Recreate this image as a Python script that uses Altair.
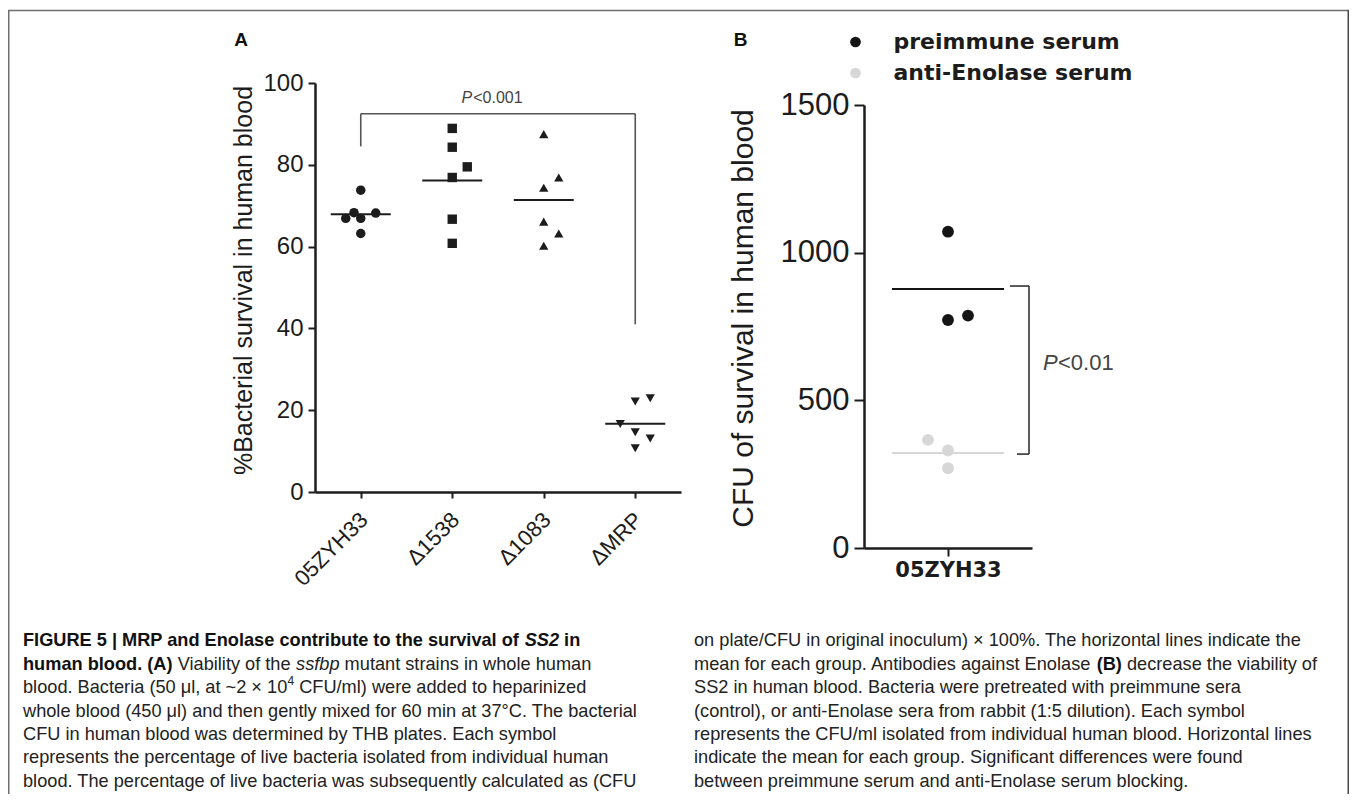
import altair as alt
import pandas as pd

# ---------------- values ----------------
STRAINS = ["05ZYH33", "Δ1538", "Δ1083", "ΔMRP"]
STRAIN_SHAPES = ["circle", "square", "triangle-up", "triangle-down"]
STRAIN_SYMBOL_AREA = [90, 85, 125, 125]

SURV_05ZYH33 = [73.8, 68.3, 68.2, 66.9, 66.9, 63.2]
SURV_D1538 = [88.9, 84.3, 79.5, 76.9, 66.7, 60.8]
SURV_D1083 = [87.5, 76.9, 74.4, 66.1, 63.2, 60.2]
SURV_DMRP = [22.1, 22.9, 16.6, 14.6, 13.1, 10.7]
# column slot of each symbol in the dot plot (-1 left, 0 centre, 1 right)
SLOT_05ZYH33 = [0, -0.45, 1, -1, 0, 0]
SLOT_D1538 = [0, 0, 1, 0, 0, 0]
SLOT_D1083 = [0, 1, 0, 0, 1, 0]
SLOT_DMRP = [0, 1, -1, 0, 1, 0]
A_Y_TICKS = [0, 20, 40, 60, 80, 100]
A_BRACKET_TOP = 92.5
A_BRACKET_LEFT_END = 84.5
A_BRACKET_RIGHT_END = 41.0
A_P_Y = 96.3

SERA = ["preimmune serum", "anti-Enolase serum"]
SERA_COLORS = ["#151515", "#d7d7d7"]
CFU_PRE = [1071, 772, 787]
CFU_ANTI = [366, 330, 270]
SLOT_PRE = [0, 0, 1]
SLOT_ANTI = [-1, 0, 0]
B_Y_TICKS = [0, 500, 1000, 1500]
B_BRACKET_TOP = 887
B_BRACKET_BOTTOM = 318
B_P_Y = 626

# ---------------- layout helpers ----------------
W, H = 1341, 786
def cx(x):
    return x - 8
def cy(y):
    return y - 8

FONT = "Liberation Sans"
INK = "#1c1c1c"
ONE = pd.DataFrame({"one": [1]})

# ---------------- panel A ----------------
dfA = pd.DataFrame({
    "strain": sum([[s] * 6 for s in STRAINS], []),
    "value": SURV_05ZYH33 + SURV_D1538 + SURV_D1083 + SURV_DMRP,
    "slot": SLOT_05ZYH33 + SLOT_D1538 + SLOT_D1083 + SLOT_DMRP,
})

xA_scale = alt.Scale(type="point", domain=STRAINS, range=[cx(315), cx(681)], padding=0.5)
yA_scale = alt.Scale(domain=[0, 100], range=[cy(492), cy(83)], nice=False, zero=False)

xA_axis = alt.Axis(orient="bottom", offset=-(H - cy(492)), title=None, labelAngle=-45,
                   labelAlign="right", labelBaseline="middle", labelFont=FONT,
                   labelFontSize=22, labelColor=INK, labelPadding=18, labelOffset=3,
                   tickSize=6, tickWidth=2, tickColor=INK, domainWidth=2.5, domainColor=INK,
                   grid=False, labelOverlap=False)
yA_axis = alt.Axis(orient="left", offset=-cx(315), values=A_Y_TICKS,
                   title="%Bacterial survival in human blood", titleFont=FONT,
                   titleFontSize=25, titleFontWeight="normal", titleColor=INK,
                   titleX=243 - 315, titleY=cy(280), titleBaseline="middle", titleAngle=270,
                   labelFont=FONT, labelFontSize=24, labelColor=INK, labelPadding=5,
                   tickSize=7, tickWidth=2, tickColor=INK, domainWidth=2.5,
                   domainColor=INK, grid=False)

ptsA = alt.Chart(dfA).mark_point(filled=True, opacity=1, color=INK, strokeWidth=0).encode(
    x=alt.X("strain:N", scale=xA_scale, axis=xA_axis, sort=STRAINS),
    xOffset=alt.XOffset("slot:Q", scale=alt.Scale(domain=[-1, 1], range=[-15, 15])),
    y=alt.Y("value:Q", scale=yA_scale, axis=yA_axis),
    shape=alt.Shape("strain:N", scale=alt.Scale(domain=STRAINS, range=STRAIN_SHAPES), legend=None),
    size=alt.Size("strain:N", scale=alt.Scale(domain=STRAINS, range=STRAIN_SYMBOL_AREA), legend=None),
)
meanA = alt.Chart(dfA).mark_tick(size=60, thickness=2, color=INK, orient="horizontal").encode(
    x=alt.X("strain:N", scale=xA_scale, axis=None, sort=STRAINS),
    y=alt.Y("mean(value):Q", scale=yA_scale, axis=None),
)
bracketA_df = pd.DataFrame({
    "x1": [STRAINS[0], STRAINS[0], STRAINS[3]],
    "x2": [STRAINS[3], STRAINS[0], STRAINS[3]],
    "y1": [A_BRACKET_TOP, A_BRACKET_LEFT_END, A_BRACKET_RIGHT_END],
    "y2": [A_BRACKET_TOP, A_BRACKET_TOP, A_BRACKET_TOP],
})
bracketA = alt.Chart(bracketA_df).mark_rule(color="#555555", strokeWidth=1.6).encode(
    x=alt.X("x1:N", scale=xA_scale, axis=None),
    x2="x2",
    y=alt.Y("y1:Q", scale=yA_scale, axis=None),
    y2="y2",
)
pA1 = alt.Chart(ONE).mark_text(text="P", font=FONT, fontSize=16, fontStyle="italic",
                               color="#444444", align="right", baseline="middle", dx=20).encode(
    x=alt.XDatum(STRAINS[1], axis=None, scale=xA_scale),
    y=alt.YDatum(A_P_Y, axis=None, scale=yA_scale),
)
pA2 = alt.Chart(ONE).mark_text(text="<0.001", font=FONT, fontSize=16,
                               color="#444444", align="left", baseline="middle", dx=21).encode(
    x=alt.XDatum(STRAINS[1], axis=None, scale=xA_scale),
    y=alt.YDatum(A_P_Y, axis=None, scale=yA_scale),
)

# ---------------- panel B ----------------
dfB = pd.DataFrame({
    "strain": ["05ZYH33"] * 6,
    "serum": [SERA[0]] * 3 + [SERA[1]] * 3,
    "cfu": CFU_PRE + CFU_ANTI,
    "slot": SLOT_PRE + SLOT_ANTI,
})
xB_scale = alt.Scale(type="point", domain=["05ZYH33"], range=[cx(864), cx(1032)], padding=0.5)
yB_scale = alt.Scale(domain=[0, 1500], range=[cy(548), cy(105)], nice=False, zero=False)
colorB_scale = alt.Scale(domain=SERA, range=SERA_COLORS)

xB_axis = alt.Axis(orient="bottom", offset=-(H - cy(548)), title=None, labelAngle=0,
                   labelFont="DejaVu Sans", labelFontWeight="bold", labelFontSize=21,
                   labelColor=INK, labelPadding=3, tickSize=8, tickWidth=2, tickColor=INK,
                   domainWidth=2.5, domainColor=INK, grid=False)
yB_axis = alt.Axis(orient="left", offset=-cx(864), values=B_Y_TICKS, format="d",
                   title="CFU of survival in human blood", titleFont=FONT,
                   titleFontSize=30, titleFontWeight="normal", titleColor=INK,
                   titleX=743 - 864, titleY=cy(318), titleBaseline="middle", titleAngle=270,
                   labelFont=FONT, labelFontSize=31, labelColor=INK, labelPadding=5,
                   tickSize=10, tickWidth=2, tickColor=INK, domainWidth=2.5,
                   domainColor=INK, grid=False)
legendB = alt.Legend(orient="none", legendX=cx(850 - 5.5), legendY=cy(42 - 11), title=None,
                     symbolType="circle", symbolSize=115, symbolStrokeWidth=0, symbolOpacity=1,
                     labelFont="DejaVu Sans", labelFontWeight="bold", labelFontSize=22,
                     labelColor=INK, rowPadding=9, labelOffset=27, padding=0, labelLimit=400)

ptsB = alt.Chart(dfB).mark_circle(size=140, opacity=1).encode(
    x=alt.X("strain:N", scale=xB_scale, axis=xB_axis),
    xOffset=alt.XOffset("slot:Q", scale=alt.Scale(domain=[-1, 1], range=[-20, 20])),
    y=alt.Y("cfu:Q", scale=yB_scale, axis=yB_axis),
    color=alt.Color("serum:N", scale=colorB_scale, legend=legendB, sort=SERA),
)
meanB = alt.Chart(dfB).mark_tick(size=112, thickness=2, orient="horizontal", opacity=1).encode(
    x=alt.X("strain:N", scale=xB_scale, axis=None),
    y=alt.Y("mean(cfu):Q", scale=yB_scale, axis=None),
    color=alt.Color("serum:N", scale=colorB_scale, legend=None),
)
BR = "#333333"
brB_top = alt.Chart(ONE).mark_rule(color=BR, strokeWidth=1.6).encode(
    x=alt.value(cx(1010)), x2=alt.value(cx(1029)),
    y=alt.YDatum(B_BRACKET_TOP, axis=None, scale=yB_scale))
brB_vert = alt.Chart(ONE).mark_rule(color=BR, strokeWidth=1.6).encode(
    x=alt.value(cx(1029)),
    y=alt.YDatum(B_BRACKET_TOP, axis=None, scale=yB_scale),
    y2=alt.Y2Datum(B_BRACKET_BOTTOM))
brB_bot = alt.Chart(ONE).mark_rule(color=BR, strokeWidth=1.6).encode(
    x=alt.value(cx(1017)), x2=alt.value(cx(1029)),
    y=alt.YDatum(B_BRACKET_BOTTOM, axis=None, scale=yB_scale))
pB1 = alt.Chart(ONE).mark_text(text="P", font=FONT, fontSize=22, fontStyle="italic",
                               color="#444444", align="left", baseline="middle").encode(
    x=alt.value(cx(1043)), y=alt.YDatum(B_P_Y, axis=None, scale=yB_scale))
pB2 = alt.Chart(ONE).mark_text(text="<0.01", font=FONT, fontSize=22,
                               color="#444444", align="left", baseline="middle").encode(
    x=alt.value(cx(1058)), y=alt.YDatum(B_P_Y, axis=None, scale=yB_scale))

# ---------------- frame, panel letters, caption ----------------
FRAME = "#6e6e6e"
frame_top = alt.Chart(ONE).mark_rule(color=FRAME, strokeWidth=1.5).encode(
    x=alt.value(0), x2=alt.value(W), y=alt.value(cy(10.5)))
frame_left = alt.Chart(ONE).mark_rule(color=FRAME, strokeWidth=1.5).encode(
    x=alt.value(0.75), y=alt.value(cy(10)), y2=alt.value(H))
frame_right = alt.Chart(ONE).mark_rule(color="#4a4a4a", strokeWidth=1.5).encode(
    x=alt.value(W - 0.75), y=alt.value(cy(10)), y2=alt.value(H))
letterA = alt.Chart(ONE).mark_text(text="A", font=FONT, fontSize=19, fontWeight="bold",
                                   color="#111", align="center", baseline="middle").encode(
    x=alt.value(cx(241)), y=alt.value(cy(39.5)))
letterB = alt.Chart(ONE).mark_text(text="B", font=FONT, fontSize=19, fontWeight="bold",
                                   color="#111", align="center", baseline="middle").encode(
    x=alt.value(cx(740.5)), y=alt.value(cy(39.5)))

# caption: each line is a list of (style, text) runs, chained with Arial-metric widths
CAPTION_LEFT = [
    [("bold", "FIGURE 5 | MRP and Enolase contribute to the survival of "), ("bolditalic", "SS2"), ("bold", " in")],
    [("bold", "human blood. (A) "), ("regular", "Viability of the "), ("italic", "ssfbp"), ("regular", " mutant strains in whole human")],
    [("regular", "blood. Bacteria (50 μl, at ~2 × 10"), ("sup", "4"), ("regular", " CFU/ml) were added to heparinized")],
    [("regular", "whole blood (450 μl) and then gently mixed for 60 min at 37°C. The bacterial")],
    [("regular", "CFU in human blood was determined by THB plates. Each symbol")],
    [("regular", "represents the percentage of live bacteria isolated from individual human")],
    [("regular", "blood. The percentage of live bacteria was subsequently calculated as (CFU")],
]
CAPTION_RIGHT = [
    [("regular", "on plate/CFU in original inoculum) × 100%. The horizontal lines indicate the")],
    [("regular", "mean for each group. Antibodies against Enolase "), ("bold", "(B)"), ("regular", " decrease the viability of")],
    [("regular", "SS2 in human blood. Bacteria were pretreated with preimmune sera")],
    [("regular", "(control), or anti-Enolase sera from rabbit (1:5 dilution). Each symbol")],
    [("regular", "represents the CFU/ml isolated from individual human blood. Horizontal lines")],
    [("regular", "indicate the mean for each group. Significant differences were found")],
    [("regular", "between preimmune serum and anti-Enolase serum blocking.")],
]
LINE_Y = [641, 665, 688, 712, 735, 758, 782]
LX, RX = 23, 694
CAP_SIZE = 18.2
SUP_SIZE = 12

_REG = {" ": 278, "(": 333, ")": 333, "%": 889, ",": 278, "-": 333, ".": 278, "/": 278, ":": 278,
        "<": 584, "|": 260, "×": 584, "~": 584, "μ": 576, "°": 400,
        "A": 667, "B": 667, "C": 722, "D": 722, "E": 667, "F": 611, "G": 778, "H": 722, "I": 278,
        "J": 500, "K": 667, "L": 556, "M": 833, "N": 722, "O": 778, "P": 667, "Q": 778, "R": 722,
        "S": 667, "T": 611, "U": 722, "V": 667, "W": 944, "X": 667, "Y": 667, "Z": 611,
        "a": 556, "b": 556, "c": 500, "d": 556, "e": 556, "f": 278, "g": 556, "h": 556, "i": 222,
        "j": 222, "k": 500, "l": 222, "m": 833, "n": 556, "o": 556, "p": 556, "q": 556, "r": 333,
        "s": 500, "t": 278, "u": 556, "v": 500, "w": 722, "x": 500, "y": 500, "z": 500}
_BOLD = dict(_REG)
_BOLD.update({"|": 280, "A": 722, "B": 722, "b": 611, "c": 556, "d": 611, "f": 333, "g": 611,
              "h": 611, "i": 278, "j": 278, "k": 556, "l": 278, "m": 889, "n": 611, "o": 611,
              "p": 611, "q": 611, "r": 389, "s": 556, "t": 333, "u": 611, "v": 556, "w": 778,
              "x": 556, "y": 556})

def text_width(text, style):
    table = _BOLD if style.startswith("bold") else _REG
    size = SUP_SIZE if style == "sup" else CAP_SIZE
    return sum(table.get(ch, 556) for ch in text) * size / 1000.0

rows = []
for x0, lines in ((LX, CAPTION_LEFT), (RX, CAPTION_RIGHT)):
    for i, runs in enumerate(lines):
        x = x0
        for style, text in runs:
            stripped = text.lstrip(" ")
            x += text_width(text[: len(text) - len(stripped)], style)
            rows.append({"px": cx(x), "py": cy(LINE_Y[i]), "style": style, "text": stripped})
            x += text_width(stripped, style)
cap_df = pd.DataFrame(rows)

STYLES = {
    "regular": dict(fontWeight="normal", fontStyle="normal", fontSize=CAP_SIZE, color="#222222", dy=0),
    "bold": dict(fontWeight="bold", fontStyle="normal", fontSize=CAP_SIZE, color="#111111", dy=0),
    "italic": dict(fontWeight="normal", fontStyle="italic", fontSize=CAP_SIZE, color="#222222", dy=0),
    "bolditalic": dict(fontWeight="bold", fontStyle="italic", fontSize=CAP_SIZE, color="#111111", dy=0),
    "sup": dict(fontWeight="normal", fontStyle="normal", fontSize=SUP_SIZE, color="#222222", dy=-7),
}
caption_layers = []
for style, props in STYLES.items():
    sub = cap_df[cap_df["style"] == style][["px", "py", "text"]]
    caption_layers.append(
        alt.Chart(sub).mark_text(font=FONT, align="left", baseline="middle", **props).encode(
            x=alt.X("px:Q", scale=None, axis=None),
            y=alt.Y("py:Q", scale=None, axis=None),
            text="text:N",
        )
    )

layers = [ptsA, meanA, bracketA, pA1, pA2,
          ptsB, meanB, brB_top, brB_vert, brB_bot, pB1, pB2,
          frame_top, frame_left, frame_right, letterA, letterB] + caption_layers

chart = alt.layer(*layers).resolve_scale(
    x="independent", y="independent", xOffset="independent", color="independent",
    shape="independent", size="independent",
).resolve_axis(x="independent", y="independent").properties(
    width=W, height=H, padding=0, autosize=alt.AutoSizeParams(type="none"),
    background="white",
).configure_view(stroke=None)

chart.save("out.html", embed_options={"renderer": "svg", "actions": False})
